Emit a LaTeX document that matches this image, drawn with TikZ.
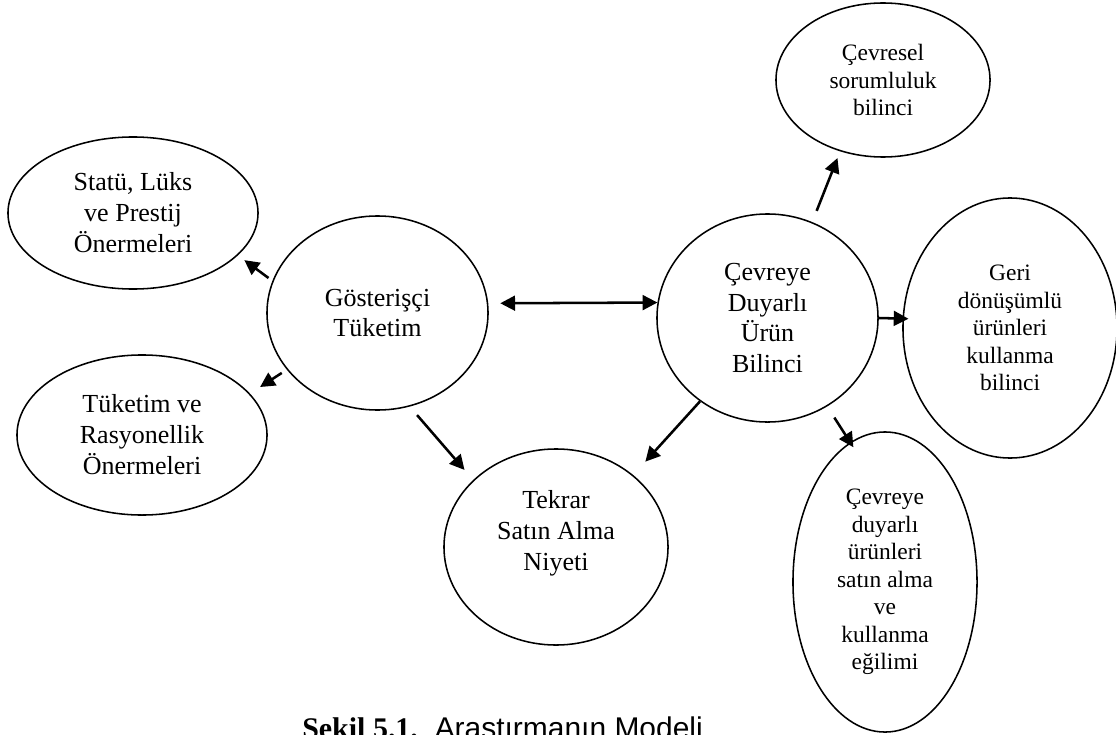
\documentclass[tikz,border=0pt]{standalone}
\usepackage{fontspec}
\setmainfont{Liberation Serif}
\setsansfont{Liberation Sans}
\usetikzlibrary{shapes.geometric,arrows.meta}

\begin{document}
\begin{tikzpicture}[x=0.025cm,y=-0.025cm,
    oval/.style={draw,ellipse,line width=1.1pt,inner sep=0pt,align=center,
      font=\fontsize{18.5}{22}\selectfont},
    small/.style={font=\fontsize{16.7}{19.6}\selectfont},
    link/.style={line width=1.8pt,->}]
    \tikzset{>={Triangle[length=10.5pt,width=10.5pt]}}
    \useasboundingbox (0,0) rectangle (1116,735);

    \node[oval,minimum width=6.25cm,minimum height=3.8cm] (S) at (133,213) {Statü, Lüks\\ve Prestij\\Önermeleri};
    \node[oval,minimum width=6.25cm,minimum height=4cm] (R) at (142,435) {Tüketim ve\\Rasyonellik\\Önermeleri};
    \node[oval,minimum width=5.525cm,minimum height=4.85cm] (G) at (377.5,313) {Gösterişçi\\Tüketim};
    \node[oval,minimum width=5.6cm,minimum height=4.9cm] (T) at (556,547) {Tekrar\\Satın Alma\\Niyeti\rule[-0.84cm]{0pt}{1pt}};
    \node[oval,minimum width=5.525cm,minimum height=5.2cm] (C) at (767.5,318) {Çevreye\\Duyarlı\\Ürün\\Bilinci};
    \node[oval,small,minimum width=5.35cm,minimum height=3.85cm] (E) at (883,80) {Çevresel\\sorumluluk\\bilinci};
    \node[oval,small,minimum width=5.35cm,minimum height=6.5cm] (K) at (1010,328) {Geri\\dönüşümlü\\ürünleri\\kullanma\\bilinci};
    \node[oval,small,minimum width=4.6cm,minimum height=7.5cm] (D) at (885,582) {Çevreye\\duyarlı\\ürünleri\\satın alma\\ve\\kullanma\\eğilimi};

    \draw[link,shorten <=0.12cm,shorten >=0.2cm] (G.163) -- (S.-22);
    \draw[link,shorten <=0.15cm,shorten >=0.3cm] (G.212) -- (R.21);
    \draw[link,shorten <=0.28cm,shorten >=0.33cm] (G.-71) -- (T.141.5);
    \draw[link,<->,shorten <=0.3cm] (G.5.2) -- (C.172.2);
    \draw[link,shorten <=0.3cm,shorten >=0.18cm] (C.65) -- (E.239.7);
    \draw[link,shorten >=-0.15cm] (C.0) -- (K.175);
    \draw[link,shorten <=0.33cm,shorten >=-0.15cm] (C.-56.5) -- (D.104.9);
    \draw[link,shorten >=0.45cm] (C.231) -- (T.43.3);

    \node[anchor=base west,inner sep=0pt,font=\fontsize{21.3}{25}\selectfont] (cap) at (302,738)
      {\textbf{Şekil 5.1.}\hspace{0.42cm}{\sffamily Araştırmanın Modeli}};
\end{tikzpicture}
\end{document}
